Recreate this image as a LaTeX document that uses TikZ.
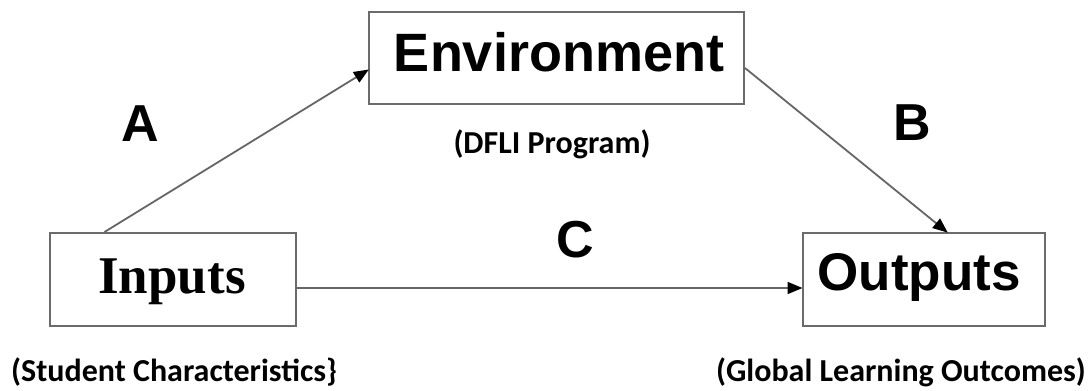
\documentclass[tikz,border=0pt]{standalone}
\usepackage{fontspec}
\setmainfont{Liberation Sans}
\newfontfamily\serifb{Liberation Serif}
\newfontfamily\calib{Carlito}
\usetikzlibrary{arrows.meta,calc}
\begin{document}
\begin{tikzpicture}[x=1pt,y=-1pt,
  box/.style={draw=black!58,line width=2pt,inner sep=0pt},
  conn/.style={draw=black!60,line width=1.8pt,-{Triangle[length=15pt,width=12pt,color=black]},shorten >=-1pt},
  big/.style={font=\fontsize{53}{60}\selectfont\bfseries},
  lett/.style={font=\fontsize{52}{60}\selectfont\bfseries},
  sub/.style={font=\calib\fontsize{32}{36}\selectfont\bfseries,inner sep=0pt}]
\useasboundingbox (0,0) rectangle (1090,391);
\fill[white] (0,0) rectangle (1090,391);
\node[box,minimum width=375pt,minimum height=92pt] (env) at (556.5,57.5) {};
\node[big,font=\fontsize{54}{60}\selectfont\bfseries] (envt) at (559,52) {Environment};
\node[box,minimum width=246pt,minimum height=93pt] (inp) at (172.5,279.5) {};
\node[big,font=\serifb\fontsize{53}{60}\selectfont\bfseries] (inpt) at (172,282) {Inputs};
\node[box,minimum width=242pt,minimum height=93pt] (out) at (923.5,279.5) {};
\node[big] (outt) at (919,277) {Outputs};
\node[lett] (la) at (140,124) {A};
\node[lett] (lb) at (912,123) {B};
\node[lett] (lc) at (575,240) {C};
\node[sub] (s1) at (552,144) {(DFLI Program)};
\node[sub,anchor=west] (s2) at (11,372) {(Student Characteristics\}};
\node[sub,anchor=east] (s3) at (1086,372) {(Global Learning Outcomes)};
\coordinate (aS) at ($(inp.north west)+(56,0)$);
\coordinate (aE) at ($(env.west)+(0,12.5)$);
\coordinate (bS) at ($(env.east)+(0,10.5)$);
\coordinate (bE) at ($(out.north)+(23.5,0)$);
\coordinate (cS) at ($(inp.east)+(0,8.5)$);
\coordinate (cE) at ($(out.west)+(0,8.5)$);
\draw[conn] (aS) -- (aE);
\draw[conn] (bS) -- (bE);
\draw[conn] (cS) -- (cE);
\end{tikzpicture}
\end{document}
